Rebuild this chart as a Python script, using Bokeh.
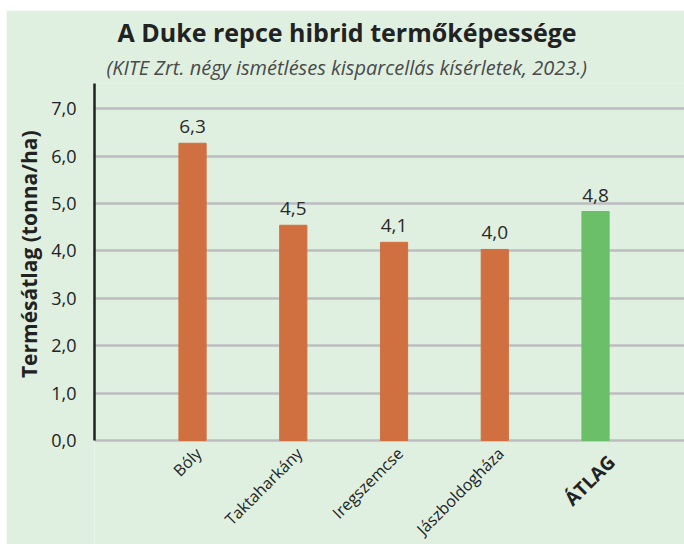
import math
from bokeh.plotting import figure
from bokeh.models import Range1d, FixedTicker, Title, ColumnDataSource
from bokeh.core.properties import value
from bokeh.embed import file_html
from bokeh.resources import INLINE

# ---- data ----
categories = ["Bóly", "Taktaharkány", "Iregszemcse", "Jászboldogháza", "ÁTLAG"]
yields = [6.27, 4.54, 4.18, 4.03, 4.83]
value_labels = ["6,3", "4,5", "4,1", "4,0", "4,8"]
bar_colors = ["#d07040", "#d07040", "#d07040", "#d07040", "#6bbf69"]
y_ticks = [0, 1, 2, 3, 4, 5, 6, 7]
y_tick_labels = ["0,0", "1,0", "2,0", "3,0", "4,0", "5,0", "6,0", "7,0"]

BG = "#dff0e1"
FONT = "Open Sans"
Y_MAX = 7.53
PX_PER_UNIT = 47.41
BELOW_ZERO_PX = 104

xs = list(range(len(categories)))

p = figure(width=678, height=534, output_backend="svg", toolbar_location=None,
           x_range=Range1d(-0.973, 4.883),
           y_range=Range1d(-BELOW_ZERO_PX / PX_PER_UNIT, Y_MAX),
           min_border_left=88, min_border_right=0, min_border_bottom=0,
           min_border_top=73, margin=(10, 0, 0, 6))
p.background_fill_color = BG
p.border_fill_color = BG
p.outline_line_color = None

sub = Title(text="(KITE Zrt. négy ismétléses kisparcellás kísérletek, 2023.)",
            align="left", offset=12, text_font=FONT, text_font_size="20px",
            text_font_style="italic", text_color="#4a4a4a", standoff=6)
p.add_layout(sub, "above")
p.title.text = "A Duke repce hibrid termőképessége"
p.title.align = "left"
p.title.offset = 23
p.title.standoff = 0
p.title.text_font = FONT
p.title.text_font_size = "25px"
p.title.text_font_style = "bold"
p.title.text_color = "#222222"

src = ColumnDataSource(dict(x=xs, top=yields, color=bar_colors, lab=value_labels))
p.vbar(x="x", top="top", width=0.27, color="color", source=src)
p.text(x="x", y="top", text="lab", source=src, text_align="center",
       text_baseline="bottom", y_offset=-10, text_font=value(FONT),
       text_font_size="19px", text_color="#2a2a2a")

# category labels (rotated), drawn at the data x of each bar
src_places = ColumnDataSource(dict(x=xs[:-1], y=[0] * (len(xs) - 1), cat=categories[:-1]))
src_avg = ColumnDataSource(dict(x=xs[-1:], y=[0], cat=categories[-1:]))
p.text(x="x", y="y", text="cat", source=src_places, angle=math.pi / 4,
       text_align="right", text_baseline="middle", x_offset=6, y_offset=10,
       text_font=value(FONT), text_font_size="16px", text_color="#222222")
p.text(x="x", y="y", text="cat", source=src_avg, angle=math.pi / 4,
       text_align="right", text_baseline="middle", x_offset=16, y_offset=18,
       text_font=value(FONT), text_font_size="19px", text_font_style="bold",
       text_color="#222222")

# grid
p.xgrid.grid_line_color = None
p.ygrid.ticker = FixedTicker(ticks=y_ticks)
p.ygrid.grid_line_color = "#bdbdc0"
p.ygrid.grid_line_width = 2.5

# y axis
p.yaxis.ticker = FixedTicker(ticks=y_ticks)
p.yaxis.bounds = (0, Y_MAX)
p.yaxis.major_label_overrides = {t: l for t, l in zip(y_ticks, y_tick_labels)}
p.yaxis.major_label_text_font = FONT
p.yaxis.major_label_text_font_size = "18px"
p.yaxis.major_label_text_color = "#222222"
p.yaxis.major_label_standoff = 12
p.yaxis.axis_line_color = "#222222"
p.yaxis.axis_line_width = 2.5
p.yaxis.major_tick_line_color = None
p.yaxis.minor_tick_line_color = None

ylab = Title(text="Termésátlag (tonna/ha)", align="right", offset=47,
             text_font=FONT, text_font_size="21px", text_font_style="bold",
             text_color="#222222", standoff=12)
p.add_layout(ylab, "left")

p.xaxis.visible = False

open("out.html", "w").write(file_html(p, INLINE))
